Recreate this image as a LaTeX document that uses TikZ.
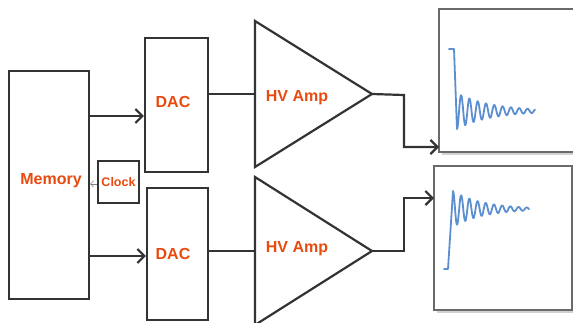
\documentclass[tikz,border=0pt]{standalone}
\usepackage{fontspec}
\setmainfont{Liberation Sans}
\usetikzlibrary{arrows.meta}
\definecolor{lbl}{HTML}{E84A10}
\definecolor{edgec}{HTML}{333333}
\definecolor{wavec}{HTML}{5B8FD0}
\definecolor{framec}{HTML}{6A6A6A}
\begin{document}
\begin{tikzpicture}[x=1pt,y=-1pt,
  blk/.style={draw=edgec,line width=2.2pt,fill=white,inner sep=0pt,
    text=lbl,font=\fontsize{16}{18}\selectfont\bfseries},
  wire/.style={draw=edgec,line width=2.2pt},
  arr/.style={wire,-{Straight Barb[length=7pt,width=14pt]}},
  thinarr/.style={draw=gray,line width=0.6pt,-{Straight Barb[length=3pt,width=6pt]}},
  plotbox/.style={draw=framec,line width=1.2pt,fill=white},
  shadowbox/.style={fill=gray!35,draw=none},
  wave/.style={draw=wavec,line width=1.8pt,line join=round,line cap=round},
  lab/.style={text=lbl,font=\fontsize{16}{18}\selectfont\bfseries,inner sep=0pt}
]
\useasboundingbox (0,0) rectangle (573,322);

% blocks
\node[blk,minimum width=80pt,minimum height=228pt] (mem) at (49,185) {};
\node[lab] (memlbl) at (51,181) {Memory};
\node[blk,minimum width=41pt,minimum height=42pt,
  font=\fontsize{12.5}{14}\selectfont\bfseries] (clk) at (118.5,182) {Clock};
\node[blk,minimum width=63pt,minimum height=134pt] (dac1) at (176.5,105) {};
\node[lab] (dac1lbl) at (173,102) {DAC};
\node[blk,minimum width=61pt,minimum height=132pt] (dac2) at (177.5,254) {};
\node[lab] (dac2lbl) at (173,254) {DAC};

% amplifiers
\coordinate (a1t) at (255,21);
\coordinate (a1b) at (255,167);
\coordinate (a1out) at (372,94);
\coordinate (a1in) at (255,94);
\draw[wire,line join=miter] (a1t) -- (a1out) -- (a1b) -- cycle;
\node[lab] (amp1lbl) at (297,98) {HV Amp};

\coordinate (a2t) at (255,177);
\coordinate (a2b) at (255,325);
\coordinate (a2out) at (372,251);
\coordinate (a2in) at (255,251);
\draw[wire,line join=miter] (a2t) -- (a2out) -- (a2b) -- cycle;
\node[lab] (amp2lbl) at (297,249) {HV Amp};

% plot frames
\fill[shadowbox] (441.5,11) rectangle (590,154.5);
\draw[plotbox] (439,9) rectangle (585,152);
\coordinate (p1in) at (439,147);
\fill[shadowbox] (436.5,168) rectangle (574.5,312.5);
\draw[plotbox] (434,166) rectangle (572,310);
\coordinate (p2in) at (434,198);

% connectors
\coordinate (m1) at (0,116);
\coordinate (m2) at (0,256);
\coordinate (ck) at (0,184);
\draw[arr] (mem.east |- m1) -- (dac1.west |- m1);
\draw[arr] (mem.east |- m2) -- (dac2.west |- m2);
\draw[thinarr] (clk.west |- ck) -- (mem.east |- ck);
\draw[wire] (dac1.east |- a1in) -- (a1in);
\draw[wire] (dac2.east |- a2in) -- (a2in);
\draw[arr] (a1out) -- (404,95) |- (p1in);
\draw[arr] (a2out) -- (404,251) |- (p2in);

% waveforms
\draw[wave] (449,49) -- (454,49) -- (457,129)
  -- plot[domain=0:78,samples=240] ({457+\x},{111+18*exp(-\x/34)*cos(43.37*\x)});
\draw[wave] (444,269) -- (448,269) -- (453,191)
  -- plot[domain=0:76,samples=240] ({453+\x},{209-18*exp(-\x/30)*cos(43.9*\x)});
\end{tikzpicture}
\end{document}
